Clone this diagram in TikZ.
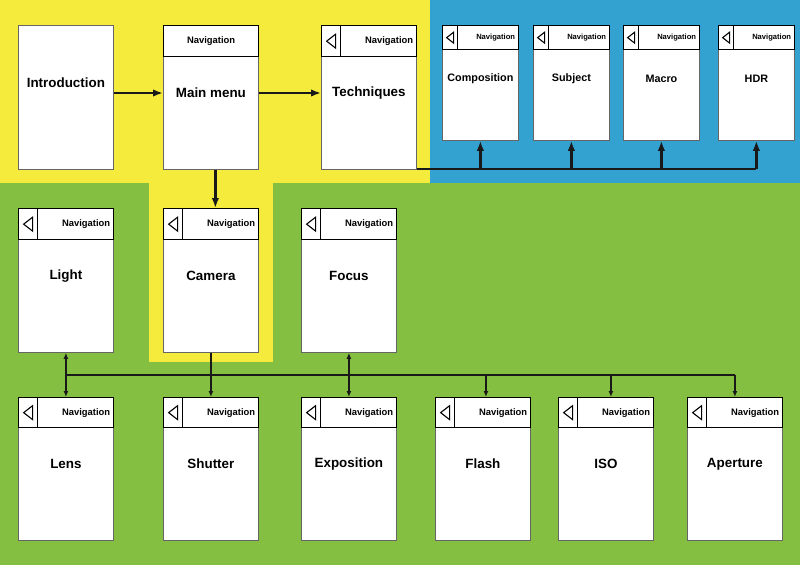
\documentclass[tikz,border=0pt]{standalone}
\usepackage{fontspec}
\setmainfont{Liberation Sans}
\usetikzlibrary{arrows.meta,positioning}
\definecolor{bgyellow}{RGB}{245,235,60}
\definecolor{bgblue}{RGB}{52,162,208}
\definecolor{bggreen}{RGB}{132,191,66}
\begin{document}
\begin{tikzpicture}[
  x=1pt, y=-1pt,
  page/.style={
    draw=black!60,
    fill=white,
    line width=0.8pt,
    anchor=north west,
    inner sep=0pt
  },
  navbar/.style={
    draw=black,
    fill=white,
    line width=1.3pt,
    anchor=north west,
    inner sep=0pt
  },
  backbtn/.style={navbar},
  navtext/.style={anchor=east, inner sep=0pt, font=\bfseries\fontsize{9.4}{11}\selectfont},
  smallnav/.style={navtext, font=\bfseries\fontsize{7.6}{9}\selectfont},
  pagetext/.style={inner sep=0pt, font=\bfseries\fontsize{13.4}{15}\selectfont},
  smalltext/.style={pagetext, font=\bfseries\fontsize{10.8}{12}\selectfont},
  backtri/.style={draw=black, line width=1.1pt, line join=miter},
  arrow/.style={-{Latex[length=10pt,width=7.5pt]}, line width=2.3pt, draw=black!90},
  busline/.style={line width=2.3pt, draw=black!90},
  thinarrow/.style={-{Latex[length=6pt,width=5pt]}, line width=1.5pt, draw=black!90},
  dblarrow/.style={{Latex[length=6pt,width=5pt]}-{Latex[length=6pt,width=5pt]}, line width=1.5pt, draw=black!90},
  thinline/.style={line width=1.5pt, draw=black!90}
]
\useasboundingbox (0,0) rectangle (800,565);
\fill[bggreen] (0,183) rectangle (800,565);
\fill[bgyellow] (0,0) rectangle (430,183);
\fill[bgblue] (430,0) rectangle (800,183);
\fill[bgyellow] (149,182) rectangle (273,362);

\node[page, minimum width=95, minimum height=144] (intro) at (18,25) {};
\node[pagetext] (intro-t) at (intro.north |- 0,83) {Introduction};

\node[page, minimum width=95, minimum height=144] (mm) at (163,25) {};
\node[navbar, minimum width=95, minimum height=31] (mm-nav) at (mm.north west) {};
\node[navtext, anchor=center] (mm-navt) at (mm-nav.center) {Navigation};
\node[pagetext] (mm-t) at (mm.north |- 0,93) {Main menu};

\node[page, minimum width=95, minimum height=144] (tech) at (321,25) {};
\node[navbar, minimum width=95, minimum height=31] (tech-nav) at (tech.north west) {};
\node[backbtn, minimum width=19, minimum height=31] (tech-back) at (tech.north west) {};
\node[navtext] (tech-navt) at ([xshift=-4pt]tech-nav.east) {Navigation};
\draw[backtri] ([xshift=-4.5pt]tech-back.center) -- ++(9,-7) -- ++(0,14) -- cycle;
\node[pagetext] (tech-t) at (tech.north |- 0,93) {Techniques};

\foreach \nm/\x/\txt in {comp/442/Composition, subj/533/Subject, macro/623/Macro, hdr/718/HDR} {
  \node[page, minimum width=76, minimum height=115] (\nm) at (\x,25) {};
  \node[navbar, minimum width=76, minimum height=24] (\nm-nav) at (\nm.north west) {};
  \node[backbtn, minimum width=15, minimum height=24] (\nm-back) at (\nm.north west) {};
  \node[smallnav] (\nm-navt) at ([xshift=-4pt]\nm-nav.east) {Navigation};
  \draw[backtri] ([xshift=-3.5pt]\nm-back.center) -- ++(7,-5.5) -- ++(0,11) -- cycle;
  \node[smalltext] (\nm-t) at (\nm.north |- 0,79) {\txt};
}

\foreach \nm/\x/\txt in {light/18/Light, cam/163/Camera, focus/301/Focus} {
  \node[page, minimum width=95, minimum height=144] (\nm) at (\x,208) {};
  \node[navbar, minimum width=95, minimum height=31] (\nm-nav) at (\nm.north west) {};
  \node[backbtn, minimum width=19, minimum height=31] (\nm-back) at (\nm.north west) {};
  \node[navtext] (\nm-navt) at ([xshift=-4pt]\nm-nav.east) {Navigation};
  \draw[backtri] ([xshift=-4.5pt]\nm-back.center) -- ++(9,-7) -- ++(0,14) -- cycle;
  \node[pagetext] (\nm-t) at (\nm.north |- 0,276) {\txt};
}

\foreach \nm/\x/\txt in {lens/18/Lens, shut/163/Shutter, expo/301/Exposition, flash/435/Flash, iso/558/ISO, aper/687/Aperture} {
  \node[page, minimum width=95, minimum height=143] (\nm) at (\x,397) {};
  \node[navbar, minimum width=95, minimum height=30] (\nm-nav) at (\nm.north west) {};
  \node[backbtn, minimum width=19, minimum height=30] (\nm-back) at (\nm.north west) {};
  \node[navtext] (\nm-navt) at ([xshift=-4pt]\nm-nav.east) {Navigation};
  \draw[backtri] ([xshift=-4.5pt]\nm-back.center) -- ++(9,-7) -- ++(0,14) -- cycle;
  \node[pagetext] (\nm-t) at (\nm.north |- 0,464) {\txt};
}

\draw[arrow] (mm-t -| intro.east) -- (mm-t -| mm.west);
\draw[arrow] (mm-t -| mm.east) -- (tech-t -| tech.west);
\draw[arrow] ([xshift=4.5pt]mm.south) -- ([xshift=4.5pt]cam.north);

\coordinate (tbus) at ([yshift=1pt]tech.south east);
\draw[busline] (tbus) -- (tbus -| hdr.south);
\foreach \nm in {comp, subj, macro, hdr}
  \draw[arrow] (tbus -| \nm.south) -- (\nm.south);

\coordinate (lbus) at (0,375);
\draw[thinline] (lbus -| light.south) -- (lbus -| aper.north);
\draw[dblarrow] (light.south) -- (lens.north);
\draw[dblarrow] (focus.south) -- (expo.north);
\draw[thinarrow] (cam.south) -- (shut.north);
\draw[thinarrow] ([xshift=3pt]lbus -| flash.north) -- ([xshift=3pt]flash.north);
\draw[thinarrow] ([xshift=5pt]lbus -| iso.north) -- ([xshift=5pt]iso.north);
\draw[thinarrow] (lbus -| aper.north) -- (aper.north);
\end{tikzpicture}
\end{document}
